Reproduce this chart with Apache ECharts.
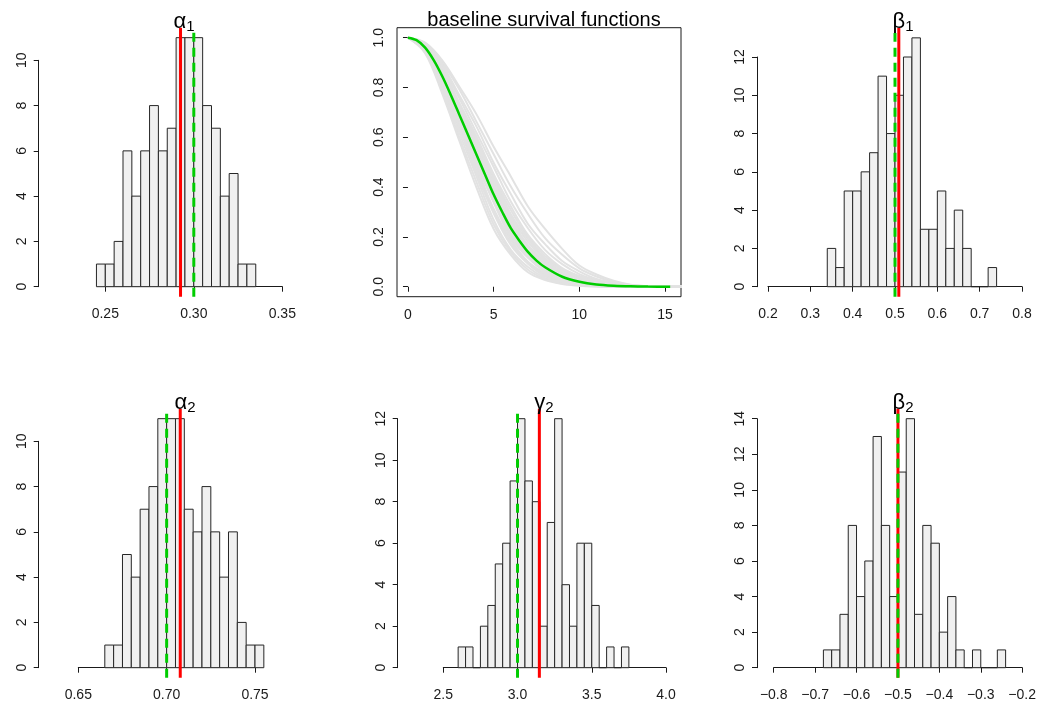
<!DOCTYPE html>
<html>
<head>
<meta charset="utf-8">
<script src="https://cdn.jsdelivr.net/npm/echarts@6/dist/echarts.min.js"></script>
<style>
html, body { margin: 0; padding: 0; background: #fff; }
#chart { width: 1039px; height: 704px; }
</style>
</head>
<body>
<div id="chart"></div>
<script>
// ---- histogram data (first break, bin width, counts, true value, estimate) ----
const alpha1Start = 0.245, alpha1Bin = 0.005;
const alpha1Counts = [1, 1, 2, 6, 4, 6, 8, 6, 7, 11, 11, 11, 8, 7, 4, 5, 1, 1];
const alpha1True = 0.30, alpha1Est = 0.2925;
const alpha1XTicks = [0.25, 0.30, 0.35];
const alpha1YTicks = [0, 2, 4, 6, 8, 10];

const beta1Start = 0.34, beta1Bin = 0.02;
const beta1Counts = [2, 1, 5, 5, 6, 7, 11, 8, 10, 12, 13, 3, 3, 5, 2, 4, 2, 0, 0, 1];
const beta1True = 0.5, beta1Est = 0.509;
const beta1XTicks = [0.2, 0.3, 0.4, 0.5, 0.6, 0.7, 0.8];
const beta1YTicks = [0, 2, 4, 6, 8, 10, 12];

const alpha2Start = 0.665, alpha2Bin = 0.005;
const alpha2Counts = [1, 1, 5, 4, 7, 8, 11, 11, 11, 7, 6, 8, 6, 4, 6, 2, 1, 1];
const alpha2True = 0.70, alpha2Est = 0.7077;
const alpha2XTicks = [0.65, 0.70, 0.75];
const alpha2YTicks = [0, 2, 4, 6, 8, 10];

const gamma2Start = 2.6, gamma2Bin = 0.05;
const gamma2Counts = [1, 1, 0, 2, 3, 5, 6, 9, 12, 9, 8, 2, 7, 12, 4, 2, 6, 6, 3, 0, 1, 0, 1];
const gamma2True = 3.0, gamma2Est = 3.147;
const gamma2XTicks = [2.5, 3.0, 3.5, 4.0];
const gamma2YTicks = [0, 2, 4, 6, 8, 10, 12];

const beta2Start = -0.68, beta2Bin = 0.02;
const beta2Counts = [1, 1, 3, 8, 4, 6, 13, 8, 4, 11, 14, 3, 8, 7, 2, 4, 1, 0, 1, 0, 0, 1];
const beta2True = -0.5, beta2Est = -0.5;
const beta2XTicks = [-0.8, -0.7, -0.6, -0.5, -0.4, -0.3, -0.2];
const beta2YTicks = [0, 2, 4, 6, 8, 10, 12, 14];

// ---- baseline survival functions ----
const survTimes = [0, 1, 2, 3, 4, 5, 6, 7, 8, 9, 10, 11, 12, 13, 14, 15, 16];
const survGray = [
  [1, 0.938, 0.775, 0.585, 0.398, 0.232, 0.128, 0.058, 0.027, 0.011, 0.004, 0.001, 0, 0, 0, 0, 0],
  [1, 0.942, 0.790, 0.600, 0.420, 0.250, 0.138, 0.068, 0.031, 0.013, 0.005, 0.001, 0, 0, 0, 0, 0],
  [1, 0.945, 0.802, 0.618, 0.442, 0.268, 0.148, 0.079, 0.035, 0.016, 0.006, 0.002, 0, 0, 0, 0, 0],
  [1, 0.948, 0.808, 0.642, 0.455, 0.295, 0.168, 0.092, 0.042, 0.021, 0.008, 0.003, 0.001, 0, 0, 0, 0],
  [1, 0.950, 0.815, 0.635, 0.468, 0.302, 0.176, 0.095, 0.048, 0.022, 0.009, 0.003, 0.001, 0, 0, 0, 0],
  [1, 0.953, 0.826, 0.652, 0.483, 0.312, 0.188, 0.100, 0.054, 0.024, 0.011, 0.004, 0.001, 0, 0, 0, 0],
  [1, 0.955, 0.831, 0.668, 0.494, 0.338, 0.198, 0.116, 0.060, 0.031, 0.013, 0.006, 0.002, 0.001, 0, 0, 0],
  [1, 0.956, 0.834, 0.672, 0.503, 0.342, 0.208, 0.120, 0.066, 0.033, 0.015, 0.006, 0.002, 0, 0, 0, 0],
  [1, 0.957, 0.836, 0.677, 0.512, 0.348, 0.218, 0.123, 0.071, 0.034, 0.017, 0.007, 0.003, 0.001, 0, 0, 0],
  [1, 0.958, 0.839, 0.680, 0.515, 0.355, 0.224, 0.130, 0.072, 0.037, 0.017, 0.008, 0.003, 0.001, 0, 0, 0],
  [1, 0.959, 0.842, 0.685, 0.522, 0.362, 0.228, 0.133, 0.076, 0.038, 0.019, 0.008, 0.003, 0.001, 0, 0, 0],
  [1, 0.961, 0.848, 0.695, 0.536, 0.378, 0.243, 0.146, 0.082, 0.044, 0.021, 0.010, 0.004, 0.001, 0, 0, 0],
  [1, 0.962, 0.845, 0.690, 0.525, 0.365, 0.232, 0.138, 0.077, 0.041, 0.020, 0.009, 0.004, 0.001, 0, 0, 0],
  [1, 0.962, 0.851, 0.702, 0.541, 0.392, 0.252, 0.158, 0.088, 0.051, 0.024, 0.012, 0.005, 0.002, 0.001, 0, 0],
  [1, 0.963, 0.856, 0.705, 0.552, 0.400, 0.262, 0.162, 0.095, 0.052, 0.027, 0.013, 0.006, 0.002, 0, 0, 0],
  [1, 0.965, 0.862, 0.708, 0.563, 0.408, 0.273, 0.168, 0.102, 0.055, 0.031, 0.014, 0.007, 0.003, 0.001, 0, 0],
  [1, 0.966, 0.864, 0.716, 0.570, 0.420, 0.283, 0.180, 0.108, 0.060, 0.033, 0.016, 0.007, 0.003, 0.001, 0, 0],
  [1, 0.968, 0.866, 0.727, 0.578, 0.433, 0.292, 0.192, 0.113, 0.067, 0.035, 0.018, 0.008, 0.004, 0.001, 0, 0],
  [1, 0.969, 0.872, 0.732, 0.590, 0.442, 0.308, 0.200, 0.122, 0.071, 0.039, 0.020, 0.009, 0.004, 0.001, 0, 0],
  [1, 0.970, 0.876, 0.738, 0.602, 0.452, 0.323, 0.208, 0.132, 0.075, 0.043, 0.022, 0.011, 0.005, 0.002, 0, 0],
  [1, 0.972, 0.882, 0.757, 0.618, 0.481, 0.342, 0.235, 0.148, 0.091, 0.051, 0.027, 0.013, 0.006, 0.002, 0, 0],
  [1, 0.975, 0.891, 0.768, 0.643, 0.498, 0.372, 0.252, 0.171, 0.103, 0.062, 0.031, 0.015, 0.006, 0.001, 0, 0],
  [1, 0.978, 0.899, 0.792, 0.662, 0.532, 0.402, 0.292, 0.195, 0.128, 0.074, 0.041, 0.019, 0.007, 0.002, 0, 0],
  [1, 0.980, 0.909, 0.803, 0.692, 0.562, 0.443, 0.322, 0.232, 0.152, 0.085, 0.049, 0.024, 0.008, 0.002, 0, 0]
];
const survGreenTimes = [0, 0.5, 1, 1.5, 2, 2.5, 3, 3.5, 4, 4.5, 5, 5.5, 6, 6.5, 7, 7.5, 8, 9, 10, 11, 12, 13, 14, 15.3];
const survGreen = [1, 0.99, 0.96, 0.91, 0.845, 0.77, 0.69, 0.61, 0.53, 0.45, 0.37, 0.30, 0.235, 0.185, 0.14, 0.105, 0.078, 0.04, 0.02, 0.009, 0.004, 0.0015, 0.0005, 0];
const survXTicks = [0, 5, 10, 15];
const survYTicks = [0, 0.2, 0.4, 0.6, 0.8, 1.0];

const FONT = "'Liberation Sans', Arial, Helvetica, sans-serif";
const INK = '#1a1a1a';
const TICK_FONT = 14;

const hists = [
  { sym: 'α', sub: '1', start: alpha1Start, bin: alpha1Bin, counts: alpha1Counts, truth: alpha1True, est: alpha1Est,
    xTicks: alpha1XTicks, yTicks: alpha1YTicks, digits: 2,
    grid: { left: 105.3, top: 60.3, width: 177, height: 226.4 }, yOffset: 66.6, titleX: 179, titleTop: 5 },
  { sym: 'β', sub: '1', start: beta1Start, bin: beta1Bin, counts: beta1Counts, truth: beta1True, est: beta1Est,
    xTicks: beta1XTicks, yTicks: beta1YTicks, digits: 1,
    grid: { left: 768, top: 57, width: 254, height: 229.7 }, yOffset: 11, titleX: 898, titleTop: 5 },
  { sym: 'α', sub: '2', start: alpha2Start, bin: alpha2Bin, counts: alpha2Counts, truth: alpha2True, est: alpha2Est,
    xTicks: alpha2XTicks, yTicks: alpha2YTicks, digits: 2,
    grid: { left: 78.3, top: 441.3, width: 176.7, height: 226.4 }, yOffset: 39.6, titleX: 180, titleTop: 386 },
  { sym: 'γ', sub: '2', start: gamma2Start, bin: gamma2Bin, counts: gamma2Counts, truth: gamma2True, est: gamma2Est,
    xTicks: gamma2XTicks, yTicks: gamma2YTicks, digits: 1,
    grid: { left: 443.3, top: 418.7, width: 222.7, height: 249 }, yOffset: 45.6, titleX: 539, titleTop: 386 },
  { sym: 'β', sub: '2', start: beta2Start, bin: beta2Bin, counts: beta2Counts, truth: beta2True, est: beta2Est,
    xTicks: beta2XTicks, yTicks: beta2YTicks, digits: 1,
    grid: { left: 773.7, top: 418.7, width: 250.6, height: 249 }, yOffset: 16.7, titleX: 898, titleTop: 386 }
];

function fmt(v, digits) {
  const s = v.toFixed(digits);
  return s.charAt(0) === '-' ? '\u2212' + s.slice(1) : s;
}

function axisCommon() {
  return {
    axisLine: { show: true, lineStyle: { color: INK, width: 1 } },
    axisTick: { show: true, length: 5, lineStyle: { color: INK, width: 1 } },
    splitLine: { show: false }
  };
}

function histRect(params, api) {
  const topLeft = api.coord([api.value(0), api.value(2)]);
  const bottomRight = api.coord([api.value(1), 0]);
  return {
    type: 'rect',
    shape: { x: topLeft[0], y: topLeft[1], width: bottomRight[0] - topLeft[0], height: Math.max(bottomRight[1] - topLeft[1], 0.01) },
    style: { fill: '#f0f0f0', stroke: '#262626', lineWidth: 1 }
  };
}

const option = {
  animation: false,
  textStyle: { fontFamily: FONT },
  title: [],
  grid: [],
  xAxis: [],
  yAxis: [],
  series: []
};

hists.forEach((h, i) => {
  const ymax = Math.max(...h.counts);
  const yLo = -0.04 * ymax, yHi = 1.04 * ymax;
  const pxPerUnit = h.grid.height / h.yTicks[h.yTicks.length - 1];
  option.grid.push(Object.assign({ containLabel: false }, h.grid));
  option.xAxis.push(Object.assign(axisCommon(), {
    gridIndex: i, type: 'value',
    min: h.xTicks[0], max: h.xTicks[h.xTicks.length - 1], interval: h.xTicks[1] - h.xTicks[0],
    offset: 0.04 * ymax * pxPerUnit,
    axisLabel: { fontSize: TICK_FONT, color: INK, margin: 10, fontFamily: FONT, formatter: v => fmt(v, h.digits) }
  }));
  option.yAxis.push(Object.assign(axisCommon(), {
    gridIndex: i, type: 'value',
    min: 0, max: h.yTicks[h.yTicks.length - 1], interval: h.yTicks[1] - h.yTicks[0],
    offset: h.yOffset,
    axisLabel: { fontSize: TICK_FONT, color: INK, margin: 10, rotate: 90, fontFamily: FONT }
  }));
  const bins = h.counts.map((c, k) => [h.start + k * h.bin, h.start + (k + 1) * h.bin, c]);
  option.series.push({
    type: 'custom', xAxisIndex: i, yAxisIndex: i, clip: false, silent: true,
    renderItem: histRect, encode: { x: [0, 1], y: 2 }, data: bins
  });
  option.series.push({
    type: 'line', xAxisIndex: i, yAxisIndex: i, clip: false, silent: true, symbol: 'none',
    lineStyle: { color: '#ff0000', width: 3 },
    data: [[h.est, yLo], [h.est, yHi]]
  });
  option.series.push({
    type: 'line', xAxisIndex: i, yAxisIndex: i, clip: false, silent: true, symbol: 'none',
    lineStyle: { color: '#00cd00', width: 3, type: [9, 6] },
    data: [[h.truth, yLo], [h.truth, yHi - 0.02 * ymax]]
  });
  option.title.push({
    text: '{m|' + h.sym + '}{s|' + h.sub + '}',
    left: h.titleX, top: h.titleTop, textAlign: 'center',
    textStyle: {
      fontWeight: 'normal',
      rich: {
        m: { fontSize: 22, fontWeight: 'normal', color: '#000', fontFamily: FONT },
        s: { fontSize: 15, fontWeight: 'normal', color: '#000', fontFamily: FONT, padding: [9, 0, 0, 0] }
      }
    }
  });
});

// survival panel
const si = hists.length;
option.grid.push({ left: 397, top: 27.7, width: 284, height: 269, show: true, borderColor: INK, borderWidth: 1, backgroundColor: 'transparent' });
option.xAxis.push({
  gridIndex: si, type: 'value', min: -0.64, max: 15.93,
  axisLine: { show: false }, splitLine: { show: false },
  axisTick: { show: true, length: 5, customValues: survXTicks, lineStyle: { color: INK } },
  axisLabel: { fontSize: TICK_FONT, color: INK, margin: 11, customValues: survXTicks, fontFamily: FONT }
});
option.yAxis.push({
  gridIndex: si, type: 'value', min: -0.04, max: 1.04,
  axisLine: { show: false }, splitLine: { show: false },
  axisTick: { show: true, length: 5, customValues: survYTicks, lineStyle: { color: INK } },
  axisLabel: { fontSize: TICK_FONT, color: INK, margin: 11, rotate: 90, customValues: survYTicks, fontFamily: FONT, formatter: v => v.toFixed(1) }
});
survGray.forEach(curve => {
  option.series.push({
    type: 'line', xAxisIndex: si, yAxisIndex: si, silent: true, symbol: 'none', smooth: 0.35,
    lineStyle: { color: '#e2e2e2', width: 2 },
    data: curve.map((s, k) => [survTimes[k], s])
  });
});
option.series.push({
  type: 'line', xAxisIndex: si, yAxisIndex: si, silent: true, symbol: 'none', smooth: 0.3,
  lineStyle: { color: '#00cd00', width: 2.5 },
  data: survGreen.map((s, k) => [survGreenTimes[k], s])
});
option.title.push({
  text: 'baseline survival functions', left: 539, top: 5, textAlign: 'center',
  textStyle: { fontSize: 20, fontWeight: 'normal', color: '#000', fontFamily: FONT }
});

const chart = echarts.init(document.getElementById('chart'));
chart.setOption(option);
</script>
</body>
</html>
